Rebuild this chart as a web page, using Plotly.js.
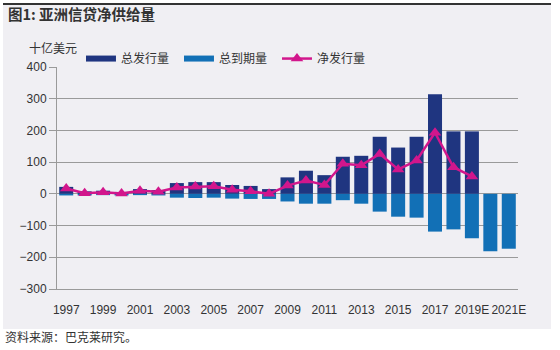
<!DOCTYPE html>
<html>
<head>
<meta charset="utf-8">
<script src="https://cdn.plot.ly/plotly-3.0.1.min.js"></script>
<style>
  html, body { margin: 0; padding: 0; background: #ffffff; }
  #bg { position: absolute; left: 3px; top: 3px; width: 548px; height: 324px; background: #f0eff3; border-top: 2px solid #333333; }
  #chart { position: absolute; left: 0; top: 0; width: 560px; height: 350px; }
</style>
</head>
<body>
<div id="bg"></div>
<div id="chart"></div>
<script>
// ---- data ----
const years = ['1997','1998','1999','2000','2001','2002','2003','2004','2005','2006','2007','2008','2009','2010','2011','2012','2013','2014','2015','2016','2017','2018','2019E','2020E','2021E'];
const grossIssuance = [22, 8, 10, 6, 15, 12, 34, 37, 37, 28, 25, 15, 52, 73, 59, 117, 120, 180, 146, 180, 314, 197, 197, 0, 0];
const grossMaturity = [-5, -5, -4, -5, -4, -5, -12, -13, -12, -15, -16, -16, -24, -31, -31, -20, -31, -56, -72, -75, -119, -112, -140, -181, -173];
const netIssuance = [17, 2, 5, 1, 10, 7, 20, 23, 24, 13, 8, 0, 26, 42, 28, 95, 90, 126, 77, 105, 193, 84, 55, null, null];
const labeledYears = ['1997','1999','2001','2003','2005','2007','2009','2011','2013','2015','2017','2019E','2021E'];
const tickMarkYears = ['1998','2000','2002','2004','2006','2008','2010','2012','2014','2016','2018','2020E'];
const seriesNames = ['总发行量', '总到期量', '净发行量'];

const navy = '#1f3580';
const blue = '#1270b6';
const magenta = '#d2168c';
const gridColor = '#9a9a9a';
const numFont = 'Liberation Sans, Arial, sans-serif';
const cjkFont = 'Noto Sans CJK SC, sans-serif';

const traces = [
  { type: 'bar', x: years, y: grossIssuance, marker: { color: navy }, showlegend: false, hoverinfo: 'skip' },
  { type: 'bar', x: years, y: grossMaturity, marker: { color: blue }, showlegend: false, hoverinfo: 'skip' },
  { type: 'scatter', mode: 'lines', x: [null], y: [null], name: seriesNames[0], line: { color: navy, width: 6 }, hoverinfo: 'skip' },
  { type: 'scatter', mode: 'lines', x: [null], y: [null], name: seriesNames[1], line: { color: blue, width: 6 }, hoverinfo: 'skip' },
  { type: 'scatter', mode: 'lines+markers', x: years, y: netIssuance, name: seriesNames[2],
    line: { color: magenta, width: 2.5 }, marker: { symbol: 'triangle-up', size: 11, color: magenta }, hoverinfo: 'skip' }
];

const n = years.length;
const xr = [-0.5, n - 0.5];

const layout = {
  width: 560, height: 350,
  margin: { l: 57, r: 42, t: 67, b: 61 },
  paper_bgcolor: 'rgba(0,0,0,0)',
  plot_bgcolor: 'rgba(0,0,0,0)',
  barmode: 'relative',
  bargap: 0.24,
  showlegend: true,
  legend: {
    orientation: 'h', x: 0.052, xanchor: 'left', y: 1.038, yanchor: 'middle',
    entrywidth: 53, entrywidthmode: 'pixels',
    font: { family: cjkFont, size: 12, color: '#333333' },
    bgcolor: 'rgba(0,0,0,0)', traceorder: 'normal'
  },
  xaxis: {
    type: 'category', range: xr, categoryorder: 'array', categoryarray: years,
    tickmode: 'array', tickvals: labeledYears, ticktext: labeledYears,
    ticks: 'outside', ticklen: 10, tickcolor: 'rgba(0,0,0,0)',
    showline: true, linecolor: gridColor, linewidth: 1,
    showgrid: false, zeroline: false,
    tickfont: { family: numFont, size: 12, color: '#333333' }
  },
  xaxis2: {
    overlaying: 'x', anchor: 'y', side: 'bottom', range: xr,
    tickmode: 'array', tickvals: tickMarkYears.map(y => years.indexOf(y)),
    ticks: 'outside', ticklen: 4, tickcolor: gridColor, tickwidth: 1,
    showticklabels: false, showgrid: false, zeroline: false, showline: false
  },
  yaxis: {
    range: [-300, 400], dtick: 100, tick0: 0,
    ticks: 'outside', ticklen: 7, tickcolor: gridColor,
    showline: true, linecolor: gridColor, linewidth: 1,
    showgrid: true, gridcolor: gridColor, gridwidth: 1,
    zeroline: false,
    tickfont: { family: numFont, size: 12, color: '#333333' }
  },
  annotations: [
    { text: '<b>图1: 亚洲信贷净供给量</b>', xref: 'paper', yref: 'paper', x: -0.11, y: 1.24, xanchor: 'left', yanchor: 'middle', showarrow: false,
      font: { family: cjkFont, size: 14.5, color: '#333333' } },
    { text: '十亿美元', xref: 'paper', yref: 'paper', x: -0.066, y: 1.09, xanchor: 'left', yanchor: 'middle', showarrow: false,
      font: { family: cjkFont, size: 12, color: '#333333' } },
    { text: '资料来源：巴克莱研究。', xref: 'paper', yref: 'paper', x: -0.117, y: -0.216, xanchor: 'left', yanchor: 'middle', showarrow: false,
      font: { family: cjkFont, size: 12, color: '#333333' } }
  ]
};

Plotly.newPlot('chart', traces, layout, { staticPlot: true, displayModeBar: false });
</script>
</body>
</html>
